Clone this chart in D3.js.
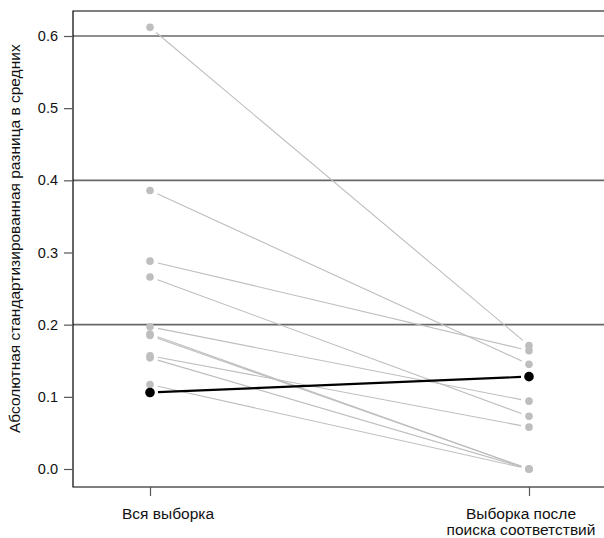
<!DOCTYPE html>
<html>
<head>
<meta charset="utf-8">
<script src="https://cdn.jsdelivr.net/npm/d3@7"></script>
<style>
  html, body { margin: 0; padding: 0; background: #fff; }
  svg { display: block; font-family: "Liberation Sans", Arial, sans-serif; }
</style>
</head>
<body>
<svg id="chart" width="604" height="538"></svg>
<script>
// ---- data ----
const categories = ["Вся выборка", "Выборка после поиска соответствий"];
const categoryLines = [["Вся выборка"], ["Выборка после", "поиска соответствий"]];
const beforeValues = [0.612, 0.386, 0.288, 0.266, 0.197, 0.187, 0.185, 0.157, 0.154, 0.117];
const afterValues  = [0.171, 0.145, 0.164, 0.073, 0.094, 0.000, 0.000, 0.058, 0.000, 0.000];
const highlightValues = [0.106, 0.128];
const yTicks = [0.0, 0.1, 0.2, 0.3, 0.4, 0.5, 0.6];
const gridValues = [0.2, 0.4, 0.6];
const yLabel = "Абсолютная стандартизированная разница в средних";

// ---- layout ----
const svg = d3.select("#chart");
const box = { left: 73, top: 11, bottom: 487, right: 640 };
const x = d3.scalePoint().domain(categories).range([150, 529]);
const y = d3.scaleLinear().domain([0, 0.6]).range([469, 36]);
const gray = "#bebebe";
const gap = 8;
const labelCenters = [168, 521];

// gridlines
svg.append("g").selectAll("line").data(gridValues).join("line")
  .attr("x1", box.left).attr("x2", box.right)
  .attr("y1", d => y(d)).attr("y2", d => y(d))
  .attr("stroke", "#686868").attr("stroke-width", 1.6);

function segment(v0, v1) {
  const x0 = x(categories[0]), x1 = x(categories[1]);
  const y0 = y(v0), y1 = y(v1);
  const dx = x1 - x0, dy = y1 - y0, L = Math.hypot(dx, dy);
  const ux = dx / L, uy = dy / L;
  return { x1: x0 + ux * gap, y1: y0 + uy * gap, x2: x1 - ux * gap, y2: y1 - uy * gap };
}

const pairs = beforeValues.map((b, i) => [b, afterValues[i]]);

// gray lines
svg.append("g").selectAll("line").data(pairs).join("line")
  .each(function(d) {
    const s = segment(d[0], d[1]);
    d3.select(this).attr("x1", s.x1).attr("y1", s.y1).attr("x2", s.x2).attr("y2", s.y2);
  })
  .attr("stroke", gray).attr("stroke-width", 1.1);

// gray points
const ptsG = svg.append("g");
ptsG.selectAll("circle.b").data(beforeValues).join("circle")
  .attr("cx", x(categories[0])).attr("cy", d => y(d)).attr("r", 3.8).attr("fill", gray);
ptsG.selectAll("circle.a").data(afterValues).join("circle")
  .attr("cx", x(categories[1])).attr("cy", d => y(d)).attr("r", 3.8).attr("fill", gray);

// highlighted series
const hs = segment(highlightValues[0], highlightValues[1]);
svg.append("line")
  .attr("x1", hs.x1).attr("y1", hs.y1).attr("x2", hs.x2).attr("y2", hs.y2)
  .attr("stroke", "#000").attr("stroke-width", 2.2);
svg.append("g").selectAll("circle").data(highlightValues).join("circle")
  .attr("cx", (d, i) => x(categories[i])).attr("cy", d => y(d)).attr("r", 4.8).attr("fill", "#000");

// box
svg.append("path")
  .attr("d", `M${box.right},${box.top}H${box.left}V${box.bottom}H${box.right}`)
  .attr("fill", "none").attr("stroke", "#000").attr("stroke-width", 1.2);

// y axis
const yAxis = svg.append("g").attr("transform", `translate(${box.left},0)`)
  .call(d3.axisLeft(y).tickValues(yTicks).tickFormat(d3.format(".1f")).tickSize(9).tickPadding(6));
yAxis.select(".domain").remove();
yAxis.selectAll(".tick line").attr("stroke", "#555").attr("stroke-width", 1.2);
yAxis.selectAll(".tick text").attr("fill", "#111").style("font-size", "14.5px")
  .style("font-family", "'Liberation Sans', Arial, sans-serif");

// x axis
const xAxis = svg.append("g").attr("transform", `translate(0,${box.bottom})`)
  .call(d3.axisBottom(x).tickSize(9).tickFormat(""));
xAxis.select(".domain").remove();
xAxis.selectAll(".tick line").attr("stroke", "#555").attr("stroke-width", 1.2);
xAxis.selectAll(".tick text").remove();

const xl = svg.append("g").selectAll("text").data(categories).join("text")
  .attr("x", (d, i) => labelCenters[i]).attr("y", 519)
  .attr("text-anchor", "middle").attr("fill", "#111").style("font-size", "15.5px");
xl.each(function(d, i) {
  const t = d3.select(this);
  categoryLines[i].forEach((ln, j) => {
    t.append("tspan").attr("x", labelCenters[i]).attr("dy", j === 0 ? 0 : 16).text(ln);
  });
});

// y label
svg.append("text")
  .attr("transform", "translate(20,433) rotate(-90)")
  .attr("text-anchor", "start").attr("fill", "#111").style("font-size", "15.5px")
  .text(yLabel);
</script>
</body>
</html>
